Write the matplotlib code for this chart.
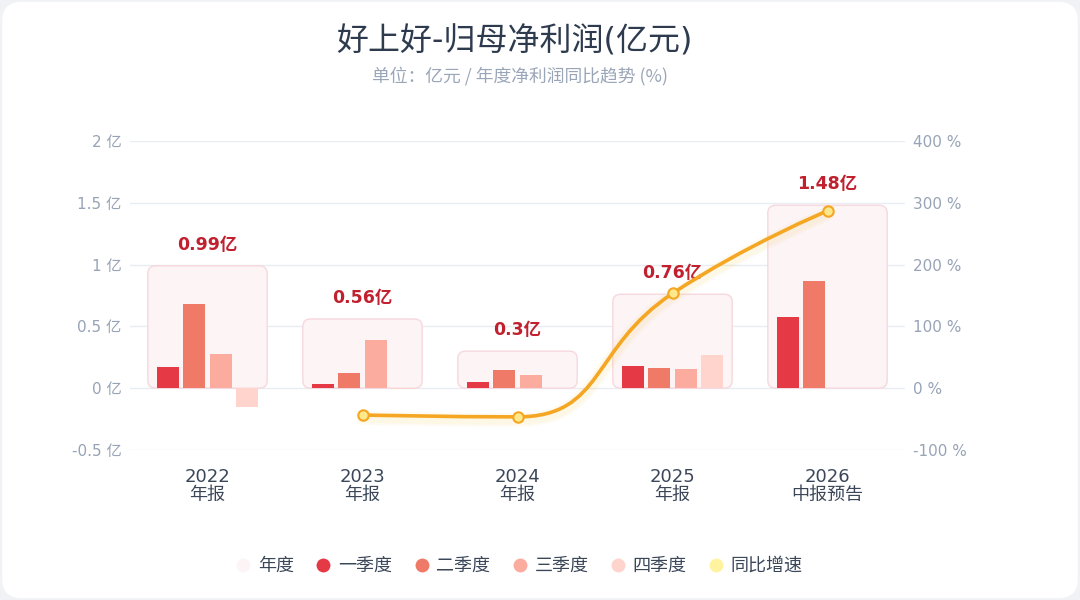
import numpy as np
import matplotlib
matplotlib.use("Agg")
import matplotlib.pyplot as plt
from matplotlib.patches import FancyBboxPatch
from matplotlib.path import Path
from matplotlib.patches import PathPatch
from matplotlib.lines import Line2D

plt.rcParams['font.family'] = ['DejaVu Sans', 'Noto Sans CJK SC']

# data (亿元, %)
years = ['2022', '2023', '2024', '2025', '2026']
periods = ['年报', '年报', '年报', '年报', '中报预告']
annual = [0.99, 0.56, 0.30, 0.76, 1.48]
q1 = [0.17, 0.03, 0.05, 0.18, 0.58]
q2 = [0.68, 0.12, 0.145, 0.16, 0.87]
q3 = [0.28, 0.39, 0.105, 0.155, np.nan]
q4 = [-0.15, -0.01, 0.0, 0.265, np.nan]
yoy = [np.nan, -43.4, -46.4, 153.3, 287.0]

quarter_names = ['一季度', '二季度', '三季度', '四季度']
quarter_colors = ['#e63946', '#f07a68', '#fcab9f', '#fed4cd']
box_face = '#fcf4f5'
box_edge = '#f6d8de'
line_color = '#f5a623'
label_color = '#c1202f'
tick_color = '#97a3b6'
text_dark = '#3b4759'

fig = plt.figure(figsize=(10.8, 6), dpi=100)
fig.patch.set_facecolor('#f1f2f5')
card = FancyBboxPatch((0.002, 0.003), 0.996, 0.994, boxstyle="round,pad=0,rounding_size=0.018",
                      transform=fig.transFigure, facecolor='white', edgecolor='none',
                      mutation_aspect=1.8, zorder=-10)
fig.patches.append(card)

ax = fig.add_axes([130 / 1080, 0.25, 775 / 1080, 0.515])
ax.set_facecolor('none')
ax2 = ax.twinx()

x = np.arange(len(years))
ax.set_xlim(-0.5, len(years) - 0.5)
ax.set_ylim(-0.5, 2.0)
ax2.set_ylim(-100, 400)

# grid + ticks
ax.set_yticks([-0.5, 0, 0.5, 1, 1.5, 2])
ax.set_yticklabels([f'{v:g} 亿' for v in [-0.5, 0, 0.5, 1, 1.5, 2]])
ax2.set_yticks([-100, 0, 100, 200, 300, 400])
ax2.set_yticklabels([f'{v} %' for v in [-100, 0, 100, 200, 300, 400]])
ax.grid(axis='y', color='#e9ecf1', lw=1, zorder=0)
ax.set_axisbelow(True)
for a in (ax, ax2):
    for s in a.spines.values():
        s.set_visible(False)
ax.tick_params(axis='y', length=0, pad=6, labelsize=11, labelcolor=tick_color)
ax2.tick_params(axis='y', length=0, pad=6, labelsize=11, labelcolor=tick_color)
ax.set_xticks(x)
ax.set_xticklabels([f'{y}\n{p}' for y, p in zip(years, periods)], linespacing=1.0)
ax.tick_params(axis='x', length=0, pad=13, labelsize=13, labelcolor=text_dark)

# annual boxes
box_w = 0.77
for xi, v in zip(x, annual):
    ax.add_patch(FancyBboxPatch((xi - box_w / 2, 0), box_w, v,
                                boxstyle="round,pad=0,rounding_size=0.05", mutation_aspect=1.25,
                                facecolor=box_face, edgecolor=box_edge, lw=1, zorder=1))
    ax.annotate(f'{v:g}亿', (xi, v), xytext=(0, 15), textcoords='offset points',
                ha='center', va='center', fontsize=12.5, fontweight='bold', color=label_color, zorder=5)

# quarterly bars
bw = 0.142
offsets = [-0.255, -0.085, 0.085, 0.255]
for vals, off, c in zip([q1, q2, q3, q4], offsets, quarter_colors):
    ax.bar(x + off, vals, width=bw, color=c, zorder=3)

# smoothed yoy line (echarts style smoothing, in display space)
valid = [i for i in range(len(yoy)) if not np.isnan(yoy[i])]
pts = ax2.transData.transform(np.column_stack([x[valid], np.array(yoy)[valid]]))
n = len(pts)
cin = [p.copy() for p in pts]
cout = [p.copy() for p in pts]
sm = 0.5
for i in range(1, n - 1):
    px, py = pts[i - 1]
    cx, cy = pts[i]
    nx, ny = pts[i + 1]
    vx, vy = nx - px, ny - py
    l0 = np.hypot(cx - px, cy - py)
    l1 = np.hypot(nx - cx, ny - cy)
    r = l1 / (l0 + l1)
    ox, oy = cx + vx * sm * r, cy + vy * sm * r
    ox = min(max(ox, min(nx, cx)), max(nx, cx))
    oy = min(max(oy, min(ny, cy)), max(ny, cy))
    vx, vy = ox - cx, oy - cy
    ix, iy = cx - vx * l0 / l1, cy - vy * l0 / l1
    ix = min(max(ix, min(px, cx)), max(px, cx))
    iy = min(max(iy, min(py, cy)), max(py, cy))
    vx, vy = cx - ix, cy - iy
    ox, oy = cx + vx * l1 / l0, cy + vy * l1 / l0
    cin[i] = np.array([ix, iy])
    cout[i] = np.array([ox, oy])
verts = [pts[0]]
codes = [Path.MOVETO]
for i in range(n - 1):
    verts += [cout[i], cin[i + 1], pts[i + 1]]
    codes += [Path.CURVE4] * 3
inv = ax2.transData.inverted()
path = Path(inv.transform(np.array(verts)), codes)
for w, a in [(10, 0.06), (7, 0.08)]:
    ax2.add_patch(PathPatch(path.transformed(ax2.transData).transformed(
        matplotlib.transforms.Affine2D().translate(0, -3)), transform=None,
        fill=False, edgecolor='#f8c94a', lw=w, alpha=a, capstyle='round', zorder=3))
ax2.add_patch(PathPatch(path, fill=False, edgecolor=line_color, lw=2.6, capstyle='round', zorder=4))
ax2.plot(x[valid], np.array(yoy)[valid], 'o', ms=7.5, mfc='#fde98c', mec=line_color, mew=1.5, zorder=5)

# titles
fig.text(514 / 1080, 1 - 42 / 600, '好上好-归母净利润(亿元)', ha='center', va='center',
         fontsize=23, color='#2e3b4e')
fig.text(520 / 1080, 1 - 76 / 600, '单位：亿元 / 年度净利润同比趋势 (%)', ha='center', va='center',
         fontsize=12.8, color='#9aa6b8', family=['Noto Sans CJK SC', 'DejaVu Sans'])

# legend
handles = [Line2D([], [], ls='none', marker='o', ms=10, mfc=box_face, mec='none')]
handles += [Line2D([], [], ls='none', marker='o', ms=10, mfc=c, mec='none') for c in quarter_colors]
handles += [Line2D([], [], ls='none', marker='o', ms=10, mfc='#fff3a0', mec='none')]
labels = ['年度'] + quarter_names + ['同比增速']
fig.legend(handles, labels, loc='center', bbox_to_anchor=(519 / 1080, 1 - 566 / 600), ncol=6,
           frameon=False, fontsize=13, labelcolor=text_dark, handlelength=0.9,
           handletextpad=0.35, columnspacing=1.2)

fig.savefig('out.png', dpi=100)
